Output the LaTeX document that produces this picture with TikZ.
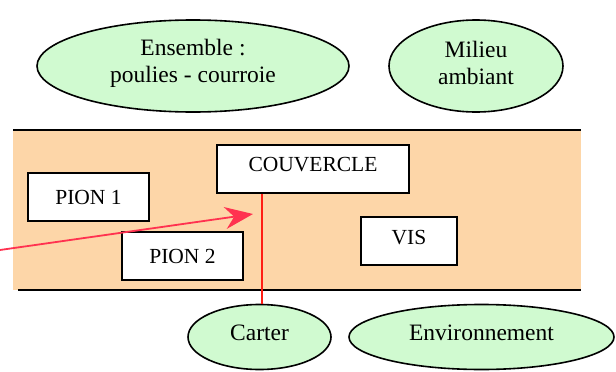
\documentclass[tikz,border=0pt]{standalone}
\usepackage{fontspec}
\setmainfont{Liberation Serif}
\usetikzlibrary{shapes.geometric,arrows.meta}
\definecolor{peach}{RGB}{253,214,168}
\definecolor{mint}{RGB}{208,250,208}
\definecolor{linkred}{RGB}{255,30,20}
\definecolor{arrowred}{RGB}{255,50,80}
\begin{document}
\begin{tikzpicture}[x=1pt,y=-1pt,
  part/.style={draw=black,line width=1.6pt,fill=white,inner sep=0pt,
    font=\fontsize{21.5}{24}\selectfont},
  milieu/.style={ellipse,draw=black,line width=1.6pt,fill=mint,inner sep=0pt},
  partlbl/.style={font=\fontsize{21.5}{24}\selectfont},
  milieulbl/.style={align=center,font=\fontsize{23.5}{27}\selectfont}]
\useasboundingbox (0,0) rectangle (616,372);

% outer environment
\node[milieu,minimum width=312,minimum height=92] (ens) at (193,66) {};
\node[milieulbl] (enslbl) at (ens.center) [yshift=3pt] {Ensemble :\\poulies - courroie};
\node[milieu,minimum width=174,minimum height=92] (mil) at (476,66) {};
\node[milieulbl] (millbl) at (mil.center) [yshift=3pt] {Milieu\\ambiant};

% system band
\fill[peach] (13,130) rectangle (581,290);
\draw[line width=1.6pt] (13,130) -- (581,130);
\draw[line width=1.6pt] (18,290) -- (581,290);

% components
\node[part,minimum width=192,minimum height=48] (couv) at (313,169) {};
\node[partlbl] (couvlbl) at (couv.center) [yshift=4pt] {COUVERCLE};
\node[part,minimum width=121,minimum height=48] (p1) at (88.5,197) {PION 1};
\node[part,minimum width=121,minimum height=48] (p2) at (182.5,256) {PION 2};
\node[part,minimum width=96,minimum height=48] (vis) at (409,241) {};
\node[partlbl] (vislbl) at (vis.center) [yshift=3pt] {VIS};

% lower environment
\node[milieu,minimum width=143,minimum height=65] (cart) at (259.5,337) {};
\node[milieulbl] (cartlbl) at (cart.center) [yshift=4pt] {Carter};
\node[milieu,minimum width=265,minimum height=65] (env) at (481.5,337) {};
\node[milieulbl] (envlbl) at (env.center) [yshift=4pt] {Environnement};

% links
\draw[linkred,line width=1.6pt] (couv.south -| 262,0) -- (cart.north -| 262,0);
\coordinate (src) at (0,250);
\coordinate (tip) at (253,214);
\draw[arrowred,line width=1.8pt,-{Stealth[length=28pt,width=22pt,inset=9pt]}] (src) -- (tip);
\end{tikzpicture}
\end{document}
